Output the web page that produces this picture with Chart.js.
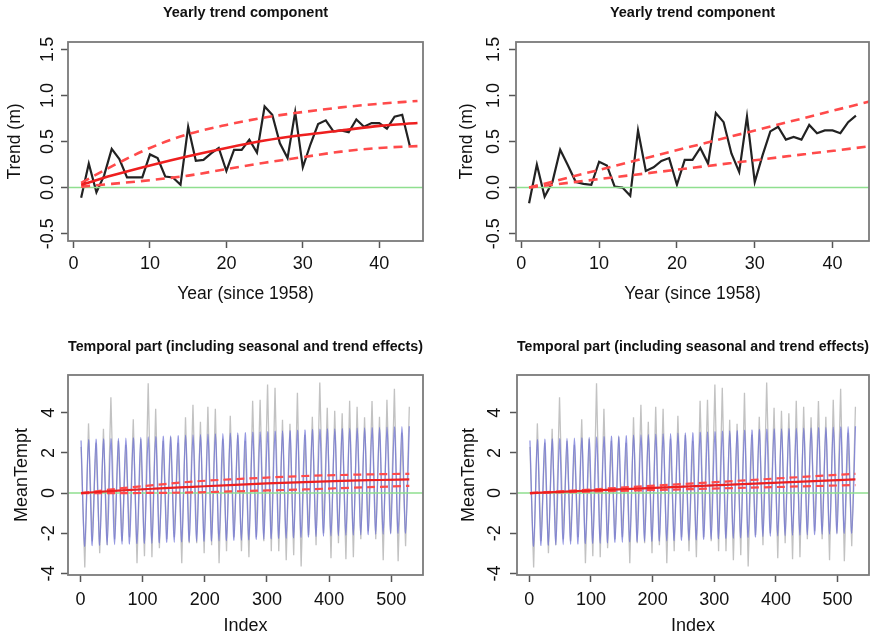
<!DOCTYPE html>
<html>
<head>
<meta charset="utf-8">
<script src="https://cdn.jsdelivr.net/npm/chart.js@4.4.1/dist/chart.umd.min.js"></script>
<style>
  body { margin: 0; background: #fff; }
  #wrap { position: relative; width: 879px; height: 638px; }
  canvas { position: absolute; }
</style>
</head>
<body>
<div id="wrap">
  <canvas id="c-tl" width="440" height="320" style="left:0;top:0"></canvas>
  <canvas id="c-tr" width="439" height="320" style="left:440px;top:0"></canvas>
  <canvas id="c-bl" width="440" height="318" style="left:0;top:320px"></canvas>
  <canvas id="c-br" width="439" height="318" style="left:440px;top:320px"></canvas>
</div>
<script>
// Yearly trend (black), years since 1958
const yearsLeft = Array.from({length: 44}, (_, i) => i + 1);
const trendLeft = [-0.11, 0.26, -0.05, 0.13, 0.42, 0.31, 0.11, 0.11, 0.11, 0.36, 0.32, 0.12, 0.11, 0.03, 0.66,
  0.29, 0.30, 0.37, 0.43, 0.18, 0.41, 0.41, 0.52, 0.38, 0.88, 0.79, 0.48, 0.32, 0.82, 0.22, 0.47, 0.69, 0.73,
  0.61, 0.62, 0.60, 0.74, 0.66, 0.70, 0.70, 0.64, 0.77, 0.79, 0.45];
const yearsRight = Array.from({length: 43}, (_, i) => i + 1);
const trendRight = [-0.17, 0.25, -0.10, 0.06, 0.41, 0.24, 0.06, 0.04, 0.03, 0.28, 0.24, 0.01, 0.00, -0.09, 0.62,
  0.18, 0.22, 0.29, 0.32, 0.03, 0.30, 0.30, 0.43, 0.26, 0.81, 0.71, 0.37, 0.17, 0.77, 0.06, 0.35, 0.61, 0.66,
  0.52, 0.55, 0.52, 0.68, 0.59, 0.62, 0.62, 0.59, 0.71, 0.78];

// fitted trend + bands (red)
const fitYears = [1, 5, 10, 15, 20, 25, 30, 35, 40, 45];
const fitLeft = [0.03, 0.13, 0.24, 0.34, 0.43, 0.51, 0.57, 0.62, 0.67, 0.70];
const upperLeft = [0.05, 0.23, 0.43, 0.58, 0.68, 0.76, 0.82, 0.87, 0.91, 0.94];
const lowerLeft = [0.01, 0.04, 0.08, 0.13, 0.20, 0.27, 0.33, 0.39, 0.43, 0.45];
const bandYearsRight = [1, 45];
const upperRight = [0.00, 0.94];
const lowerRight = [0.00, 0.45];

// monthly series: one peak and one trough per year
const period = 12;
const bluePeaks = [2.62, 2.66, 2.68, 2.70, 2.71, 2.72, 2.73, 2.75, 2.77, 2.80, 2.81, 2.83, 2.85, 2.86, 2.88,
  2.90, 2.91, 2.93, 2.95, 2.96, 2.98, 3.00, 3.01, 3.03, 3.05, 3.06, 3.08, 3.10, 3.11, 3.13, 3.15, 3.17, 3.18,
  3.19, 3.20, 3.21, 3.22, 3.23, 3.24, 3.26, 3.27, 3.28, 3.29, 3.31, 3.33];
const blueTroughs = [-2.65, -2.62, -2.60, -2.58, -2.56, -2.55, -2.54, -2.52, -2.51, -2.50, -2.48, -2.46, -2.45,
  -2.43, -2.42, -2.41, -2.40, -2.39, -2.38, -2.37, -2.36, -2.35, -2.33, -2.31, -2.30, -2.28, -2.26, -2.25,
  -2.23, -2.21, -2.19, -2.17, -2.15, -2.13, -2.12, -2.10, -2.09, -2.08, -2.07, -2.05, -2.04, -2.03, -2.01, -2.00];
const grayPeaks = [2.3, 3.47, 2.5, 3.2, 4.77, 2.6, 2.4, 3.67, 2.7, 5.47, 4.2, 2.6, 2.8, 2.5, 3.77, 4.4, 3.55,
  4.3, 4.2, 2.7, 3.85, 2.9, 2.6, 4.6, 4.65, 5.4, 5.25, 3.65, 3.45, 5.0, 2.9, 3.8, 5.5, 4.25, 4.1, 3.97, 4.6,
  4.3, 3.78, 4.58, 3.8, 4.65, 5.2, 3.0, 4.3];
const grayTroughs = [-3.7, -2.4, -3.0, -2.6, -2.3, -2.4, -2.2, -3.5, -3.15, -3.2, -2.75, -2.3, -2.2, -3.5, -2.5,
  -2.5, -3.0, -2.6, -3.5, -2.9, -2.2, -2.9, -3.2, -2.2, -2.4, -2.9, -2.9, -3.35, -3.1, -3.65, -2.1, -2.6, -2.0,
  -3.25, -2.5, -3.3, -3.2, -2.3, -1.9, -2.3, -3.35, -2.0, -3.4, -2.65];

const fitIndex = [1, 60, 120, 180, 240, 300, 360, 420, 480, 529];
const fitBL = [0.00, 0.12, 0.22, 0.31, 0.40, 0.48, 0.55, 0.61, 0.65, 0.68];
const upperBL = [0.00, 0.22, 0.40, 0.57, 0.68, 0.77, 0.85, 0.90, 0.94, 0.96];
const lowerBL = [0.00, 0.00, 0.01, 0.03, 0.08, 0.13, 0.18, 0.25, 0.31, 0.36];
const lineIndexBR = [1, 529];
const fitBR = [0.00, 0.68];
const upperBR = [0.00, 0.96];
const lowerBR = [0.00, 0.40];

const zeroLevel = 0;
const topYTicks = [-0.5, 0, 0.5, 1, 1.5];
const topXTicks = [0, 10, 20, 30, 40];
const bottomYTicks = [-4, -2, 0, 2, 4];
const bottomXTicks = [0, 100, 200, 300, 400, 500];

const FONT = "'Liberation Sans', Arial, Helvetica, sans-serif";
const INK = '#111';

function pts(xs, ys) {
  return xs.map((x, i) => ({x: x, y: ys[i]}));
}

function seasonal(peaks, troughs) {
  const out = [];
  peaks.forEach((p, k) => {
    out.push({x: 1 + k * period, y: p});
    if (k < troughs.length) out.push({x: 7 + k * period, y: troughs[k]});
  });
  return out;
}

function redLine(data, dashed, width) {
  return {
    data: data,
    borderColor: dashed ? '#ff4a4a' : '#ee1f1f',
    borderWidth: width,
    borderDash: dashed ? [9, 6] : [],
    pointRadius: 0,
    tension: 0.4,
    cubicInterpolationMode: 'monotone',
    fill: false
  };
}

// box around the plot region + abline(h = 0)
const rFrame = {
  id: 'rFrame',
  afterDatasetDraw(chart, args, opts) {
    if (args.index !== opts.zeroAfter) return;
    const {ctx, chartArea: a, scales: {y}} = chart;
    const py = y.getPixelForValue(zeroLevel);
    ctx.save();
    ctx.strokeStyle = '#8fdf8f';
    ctx.lineWidth = 1.6;
    ctx.beginPath();
    ctx.moveTo(a.left, py);
    ctx.lineTo(a.right, py);
    ctx.stroke();
    ctx.restore();
  },
  afterDraw(chart) {
    const {ctx, chartArea: a} = chart;
    ctx.save();
    ctx.strokeStyle = '#7a7a7a';
    ctx.lineWidth = 1.8;
    ctx.strokeRect(a.left, a.top, a.right - a.left, a.bottom - a.top);
    ctx.restore();
  }
};

function makePanel(id, cfg) {
  const canvas = document.getElementById(id);
  const W = canvas.width, H = canvas.height;
  const area = cfg.area; // left, top, right, bottom of the plot box
  const titleLine = 14.5 * 1.2;
  return new Chart(canvas, {
    type: 'line',
    data: {datasets: cfg.datasets},
    options: {
      responsive: false,
      animation: false,
      events: [],
      layout: {padding: {left: 0, top: 0, right: W - area[2], bottom: 0}},
      plugins: {
        legend: {display: false},
        tooltip: {enabled: false},
        title: {
          display: true,
          fullSize: false,
          text: cfg.title,
          color: INK,
          font: {family: FONT, size: 14.5, weight: 'bold'},
          padding: {top: cfg.titleTop, bottom: area[1] - cfg.titleTop - titleLine}
        },
        rFrame: {zeroAfter: cfg.zeroAfter}
      },
      scales: {
        x: {
          type: 'linear',
          min: cfg.xRange[0],
          max: cfg.xRange[1],
          afterFit: s => { s.height = H - area[3]; },
          afterBuildTicks: s => { s.ticks = cfg.xTicks.map(v => ({value: v})); },
          ticks: {
            color: INK, padding: cfg.xTickPad, maxRotation: 0, autoSkip: false,
            font: {family: FONT, size: 18}
          },
          grid: {drawOnChartArea: false, tickLength: 7, tickColor: '#555', tickWidth: 1.5},
          border: {display: false},
          title: {
            display: true, text: cfg.xTitle, color: INK,
            font: {family: FONT, size: cfg.labelSize},
            padding: {top: 0, bottom: cfg.xTitlePad}
          }
        },
        y: {
          type: 'linear',
          min: cfg.yRange[0],
          max: cfg.yRange[1],
          afterFit: s => { s.width = area[0]; },
          afterBuildTicks: s => { s.ticks = cfg.yTicks.map(v => ({value: v})); },
          ticks: {
            color: INK, padding: cfg.yTickPad, minRotation: 90, maxRotation: 90,
            crossAlign: 'center', autoSkip: false,
            font: {family: FONT, size: 18},
            callback: cfg.yFormat
          },
          grid: {drawOnChartArea: false, tickLength: 7, tickColor: '#555', tickWidth: 1.5},
          border: {display: false},
          title: {
            display: true, text: cfg.yTitle, color: INK,
            font: {family: FONT, size: cfg.labelSize},
            padding: {top: cfg.yTitlePad, bottom: 0}
          }
        }
      }
    },
    plugins: [rFrame]
  });
}

const oneDecimal = v => v.toFixed(1);
const whole = v => String(v);

makePanel('c-tl', {
  area: [68, 42, 423, 241],
  title: 'Yearly trend component', titleTop: 4.6,
  xTitle: 'Year (since 1958)', yTitle: 'Trend (m)', labelSize: 17.5,
  xRange: [-0.72, 45.72], yRange: [-0.58, 1.58],
  xTicks: topXTicks, yTicks: topYTicks, yFormat: oneDecimal,
  xTickPad: 5, yTickPad: -2.5, xTitlePad: 15.5, yTitlePad: 4.5,
  zeroAfter: 3,
  datasets: [
    redLine(pts(fitYears, fitLeft), false, 2.6),
    redLine(pts(fitYears, upperLeft), true, 2.6),
    redLine(pts(fitYears, lowerLeft), true, 2.6),
    {data: pts(yearsLeft, trendLeft), borderColor: '#222', borderWidth: 2.2, pointRadius: 0, tension: 0}
  ]
});

makePanel('c-tr', {
  area: [76, 42, 429, 241],
  title: 'Yearly trend component', titleTop: 4.6,
  xTitle: 'Year (since 1958)', yTitle: 'Trend (m)', labelSize: 17.5,
  xRange: [-0.68, 44.68], yRange: [-0.58, 1.58],
  xTicks: topXTicks, yTicks: topYTicks, yFormat: oneDecimal,
  xTickPad: 5, yTickPad: -0.5, xTitlePad: 15.5, yTitlePad: 17,
  zeroAfter: 2,
  datasets: [
    redLine(pts(bandYearsRight, upperRight), true, 2.6),
    redLine(pts(bandYearsRight, lowerRight), true, 2.6),
    {data: pts(yearsRight, trendRight), borderColor: '#222', borderWidth: 2.2, pointRadius: 0, tension: 0}
  ]
});

function bottomSets(fx, fit, up, low) {
  return [
    redLine(pts(fx, fit), false, 2.2),
    Object.assign(redLine(pts(fx, up), true, 2.2), {borderDash: [8, 5]}),
    Object.assign(redLine(pts(fx, low), true, 2.2), {borderDash: [8, 5]}),
    {data: seasonal(bluePeaks, blueTroughs), borderColor: 'rgba(104, 108, 212, 0.7)', borderWidth: 1.3,
      pointRadius: 0, tension: 0.3},
    {data: seasonal(grayPeaks, grayTroughs), borderColor: '#c2c2c2', borderWidth: 1.3,
      pointRadius: 0, tension: 0}
  ];
}

makePanel('c-bl', {
  area: [68, 55, 423, 255],
  title: 'Temporal part (including seasonal and trend effects)', titleTop: 18,
  xTitle: 'Index', yTitle: 'MeanTempt', labelSize: 18,
  xRange: [-20, 551], yRange: [-4.08, 5.88],
  xTicks: bottomXTicks, yTicks: bottomYTicks, yFormat: whole,
  xTickPad: 7, yTickPad: 4, xTitlePad: 1.5, yTitlePad: 11,
  zeroAfter: 3,
  datasets: bottomSets(fitIndex, fitBL, upperBL, lowerBL)
});

makePanel('c-br', {
  area: [77, 55, 429, 255],
  title: 'Temporal part (including seasonal and trend effects)', titleTop: 18,
  xTitle: 'Index', yTitle: 'MeanTempt', labelSize: 18,
  xRange: [-20, 551], yRange: [-4.08, 5.88],
  xTicks: bottomXTicks, yTicks: bottomYTicks, yFormat: whole,
  xTickPad: 7, yTickPad: 7, xTitlePad: 1.5, yTitlePad: 18,
  zeroAfter: 3,
  datasets: bottomSets(lineIndexBR, fitBR, upperBR, lowerBR)
});
</script>
</body>
</html>
